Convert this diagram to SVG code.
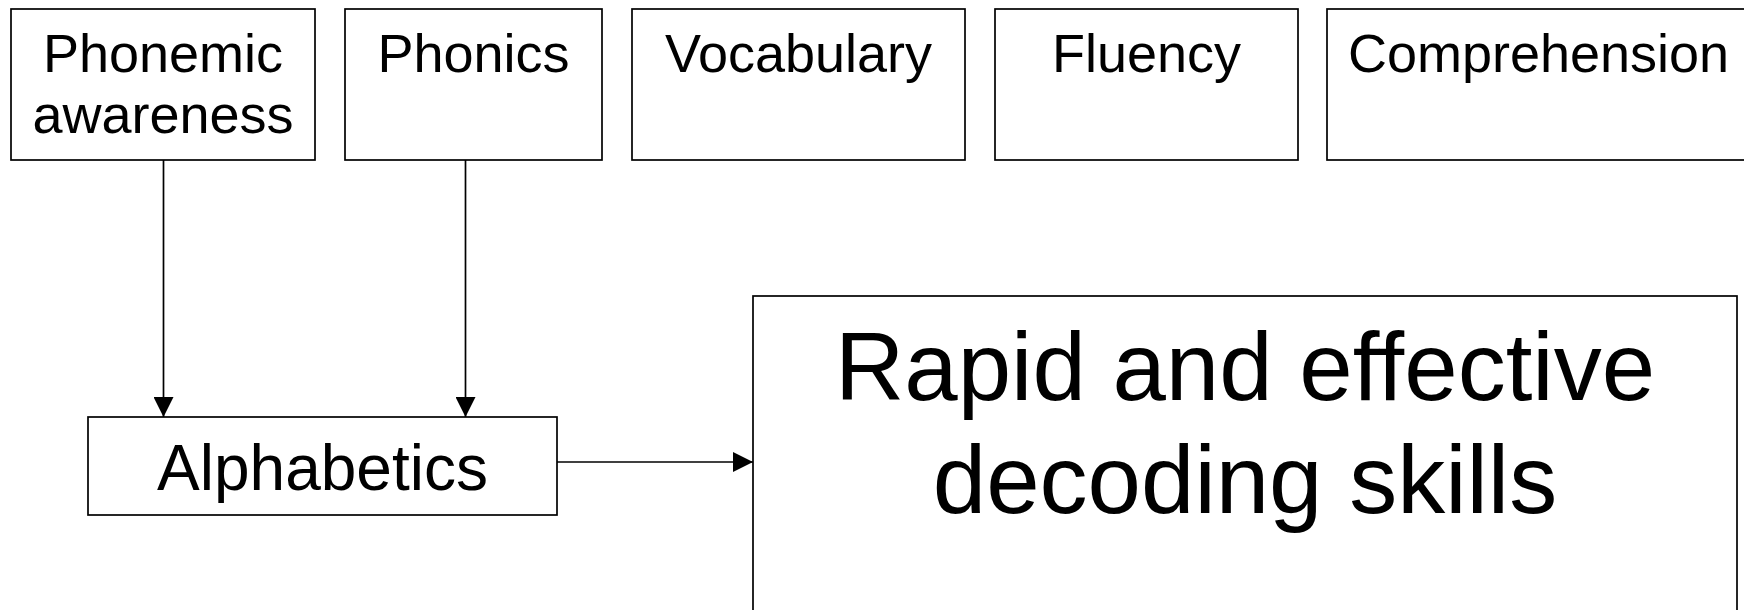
<svg xmlns="http://www.w3.org/2000/svg" width="1744" height="610" viewBox="0 0 1744 610">
<style>
.box{fill:#fff;stroke:#000;stroke-width:1.7}
.t{font-family:"Liberation Sans",Arial,sans-serif;fill:#000;text-anchor:middle}
.s{font-size:54px}
.m{font-size:64px}
.l{font-size:96px}
.c{stroke:#000;stroke-width:1.7;fill:none;marker-end:url(#ah)}
</style>
<defs>
<marker id="ah" viewBox="0 0 20 20" refX="20" refY="10" markerWidth="20" markerHeight="20" markerUnits="userSpaceOnUse" orient="auto">
<path d="M0,0 L20,10 L0,20 z" fill="#000"/>
</marker>
</defs>
<rect width="1744" height="610" fill="#fff"/>
<g id="phonemic">
<rect class="box" x="11" y="9" width="304" height="151"/>
<text class="t s" x="163" y="72">Phonemic</text>
<text class="t s" x="163" y="133">awareness</text>
</g>
<g id="phonics">
<rect class="box" x="345" y="9" width="257" height="151"/>
<text class="t s" x="473.5" y="72">Phonics</text>
</g>
<g id="vocabulary">
<rect class="box" x="632" y="9" width="333" height="151"/>
<text class="t s" x="798.5" y="72">Vocabulary</text>
</g>
<g id="fluency">
<rect class="box" x="995" y="9" width="303" height="151"/>
<text class="t s" x="1146.5" y="72">Fluency</text>
</g>
<g id="comprehension">
<rect class="box" x="1327" y="9" width="423" height="151"/>
<text class="t s" x="1538.5" y="72">Comprehension</text>
</g>
<g id="alphabetics">
<rect class="box" x="88" y="417" width="469" height="98"/>
<text class="t m" x="322.5" y="490">Alphabetics</text>
</g>
<g id="decoding">
<rect class="box" x="753" y="296" width="984" height="330"/>
<text class="t l" x="1245" y="400">Rapid and effective</text>
<text class="t l" x="1245" y="513">decoding skills</text>
</g>
<g id="connectors">
<line class="c" x1="163.5" y1="160" x2="163.5" y2="417"/>
<line class="c" x1="465.5" y1="160" x2="465.5" y2="417"/>
<line class="c" x1="557" y1="462" x2="753" y2="462"/>
</g>
</svg>
